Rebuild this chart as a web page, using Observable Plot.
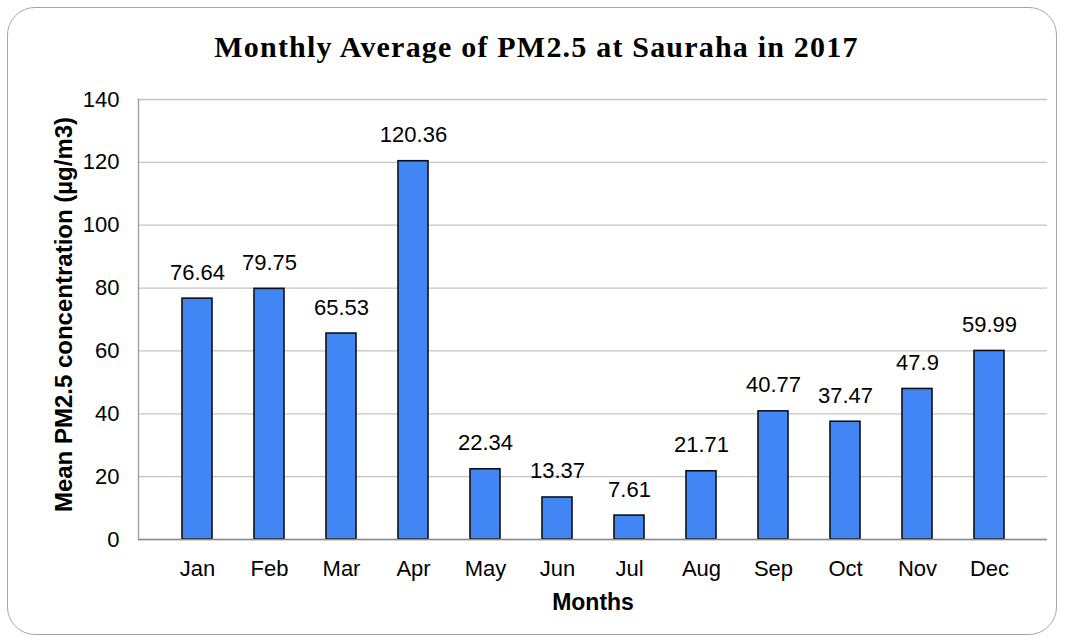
<!DOCTYPE html>
<html>
<head>
<meta charset="utf-8">
<script src="https://cdn.jsdelivr.net/npm/d3@7"></script>
<script src="https://cdn.jsdelivr.net/npm/@observablehq/plot@0.6"></script>
<style>
  html, body { margin: 0; padding: 0; background: #fff; }
  #wrap { position: relative; width: 1065px; height: 644px; overflow: hidden; }
  #border { position: absolute; left: 7px; top: 7px; width: 1050px; height: 628px;
    border: 1px solid #a6a6a6; border-radius: 28px; box-sizing: border-box; }
  #title { position: absolute; left: 0; top: 30px; width: 1065px; text-align: center;
    font-family: "Liberation Serif", serif; font-weight: bold; font-size: 30px; color: #000;
    letter-spacing: 1.2px; padding-left: 4px; }
  #chart { position: absolute; left: 0; top: 0; }
</style>
</head>
<body>
<div id="wrap">
  <div id="border"></div>
  <div id="title">Monthly Average of PM2.5 at Sauraha in 2017</div>
  <div id="chart"></div>
</div>
<script>
const months = ["Jan","Feb","Mar","Apr","May","Jun","Jul","Aug","Sep","Oct","Nov","Dec"];
const values = [76.64, 79.75, 65.53, 120.36, 22.34, 13.37, 7.61, 21.71, 40.77, 37.47, 47.9, 59.99];
const valueLabels = ["76.64","79.75","65.53","120.36","22.34","13.37","7.61","21.71","40.77","37.47","47.9","59.99"];
const yTicks = [0, 20, 40, 60, 80, 100, 120, 140];
const yLabel = "Mean PM2.5 concentration (µg/m3)";
const xLabel = "Months";

const data = months.map((m, i) => ({month: m, value: values[i], label: valueLabels[i]}));

const chart = Plot.plot({
  width: 1065,
  height: 644,
  marginLeft: 138,
  marginRight: 18,
  marginTop: 99,
  marginBottom: 105,
  style: {fontFamily: "'Liberation Sans', Arial, sans-serif", fontSize: "22px", color: "#000", background: "transparent"},
  x: {domain: months, padding: 0.59, label: null},
  y: {domain: [0, 140], label: null},
  marks: [
    Plot.gridY(yTicks, {stroke: "#c4c4c4", strokeOpacity: 1, strokeWidth: 1.3}),
    Plot.barY(data, {x: "month", y: "value", fill: "#4285f4", stroke: "#111", strokeWidth: 1.6}),
    Plot.ruleY([0], {stroke: "#8c8c8c", strokeWidth: 1.6}),
    Plot.frame({anchor: "left", stroke: "#9a9a9a", strokeWidth: 1.3}),
    Plot.text(data, {x: "month", y: "value", text: "label", lineAnchor: "bottom", dy: -19, fontSize: 22, fill: "#000"}),
    Plot.axisY(yTicks, {tickSize: 0, tickPadding: 19, fontSize: 22, label: null}),
    Plot.axisX({tickSize: 0, tickPadding: 21, fontSize: 22, label: null}),
    Plot.text([yLabel], {frameAnchor: "left", textAnchor: "middle", rotate: -90, dx: -74, dy: -5, fontWeight: "bold", fontSize: 24, fill: "#000"}),
    Plot.text([xLabel], {frameAnchor: "bottom", dy: 70, fontWeight: "bold", fontSize: 23, fill: "#000"})
  ]
});
document.getElementById("chart").appendChild(chart);
</script>
</body>
</html>
